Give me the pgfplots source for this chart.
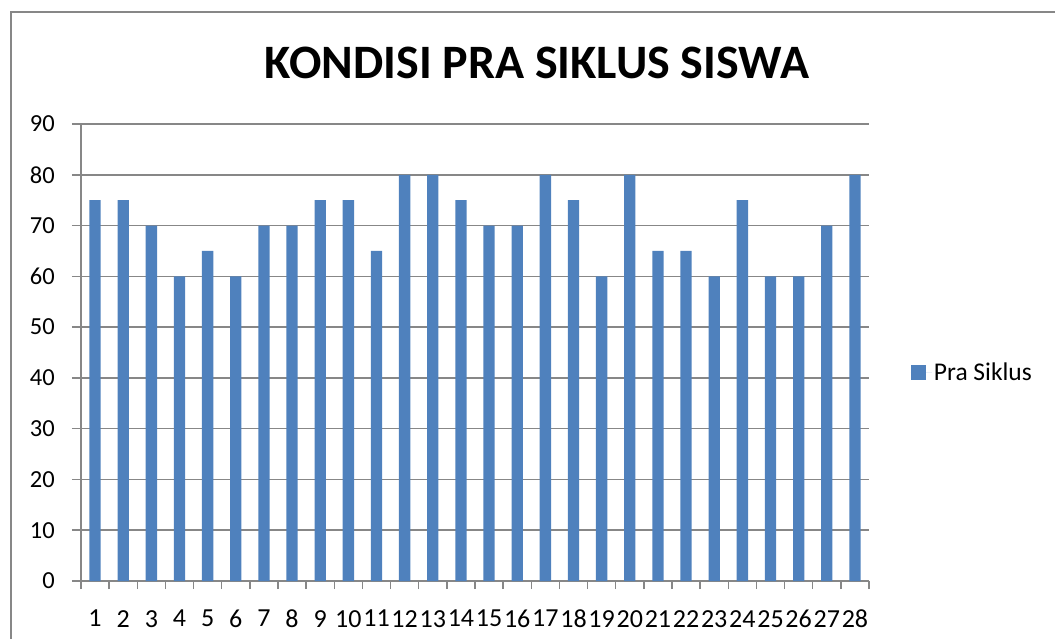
\documentclass[border=0pt]{standalone}
\usepackage{fontspec}
\setmainfont{Carlito}
\usepackage{pgfplots}
\pgfplotsset{compat=1.18}

\definecolor{barblue}{HTML}{4F81BD}
\definecolor{gridgray}{HTML}{878787}

\begin{document}
\begin{tikzpicture}
\useasboundingbox (0pt,0pt) rectangle (1055pt,638pt);
\clip (0pt,0pt) rectangle (1055pt,638pt);
% chart frame (right and bottom edges lie outside the picture)
\draw[gridgray, line width=1.5pt] (11pt,-20pt) -- (11pt,626pt) -- (1080pt,626pt);
\node[font=\fontsize{48}{52}\selectfont\bfseries] at (537pt,575pt) {KONDISI PRA SIKLUS SISWA};
\begin{axis}[
    at={(81pt,57pt)}, anchor=south west,
    scale only axis, width=788pt, height=457pt,
    xmin=0.5, xmax=28.5, ymin=0, ymax=90,
    axis x line*=bottom, axis y line*=left,
    axis line style={-, draw=gridgray, line width=1.5pt},
    ytick={0,10,...,90},
    ymajorgrids,
    major grid style={gridgray, line width=1.5pt},
    xtick={1,...,28},
    minor xtick={0.5,1.5,...,28.5},
    tick align=outside,
    major tick length=9pt, minor tick length=8pt,
    tick style={gridgray, line width=1.5pt},
    major x tick style={draw=none},
    /pgf/number format/assume math mode=true,
    tick label style={font=\fontsize{24.5}{28}\selectfont},
    x tick label style={inner sep=0pt, yshift=-20pt, font=\fontsize{26}{28}\selectfont},
    y tick label style={inner sep=0pt, xshift=-17pt},
    ybar, bar width=11.3pt,
    legend style={at={(1.053,0.457)}, anchor=west, draw=none, fill=none,
        font=\fontsize{25.5}{28}\selectfont, inner sep=0pt},
    legend image code/.code={
        \fill[barblue] (0pt,-7.5pt) rectangle (15pt,7.5pt);
        \path (0pt,0pt) -- (21pt,0pt);
    },
]
\addplot[fill=barblue, draw=none] coordinates {
    (1,75) (2,75) (3,70) (4,60) (5,65) (6,60) (7,70)
    (8,70) (9,75) (10,75) (11,65) (12,80) (13,80) (14,75)
    (15,70) (16,70) (17,80) (18,75) (19,60) (20,80) (21,65)
    (22,65) (23,60) (24,75) (25,60) (26,60) (27,70) (28,80)
};
\legend{Pra Siklus}
\end{axis}
\end{tikzpicture}
\end{document}
